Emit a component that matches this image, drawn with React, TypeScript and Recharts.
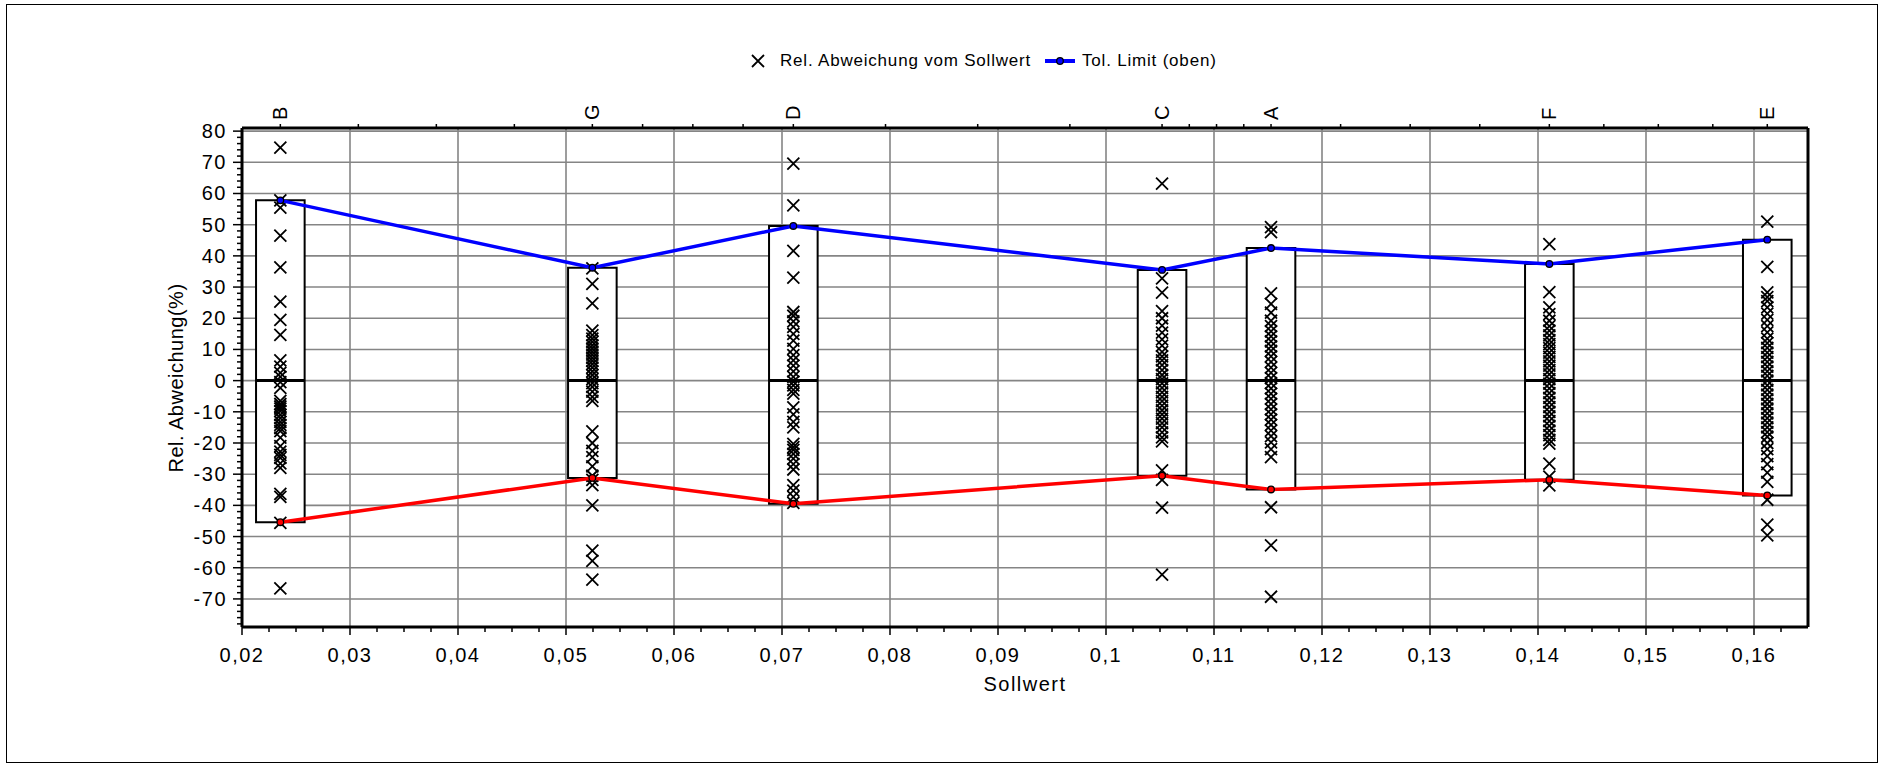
import {
  CartesianGrid,
  ComposedChart,
  Legend,
  ReferenceArea,
  ReferenceLine,
  Scatter,
  XAxis,
  YAxis,
} from "recharts";

// Sollwert per sample (top axis labels)
const groupNames = ["B", "G", "D", "C", "A", "F", "E"];
const groupX = [0.02355, 0.05244, 0.07105, 0.10519, 0.11528, 0.14105, 0.16123];
const upperLimit = [57.8, 36.2, 49.6, 35.5, 42.5, 37.4, 45.2];
const lowerLimit = [-45.4, -31.2, -39.5, -30.5, -34.9, -31.8, -36.8];
const medianLine = [0, 0, 0, 0, 0, 0, 0];

const devB = [74.7, 57.8, 55.5, 46.5, 36.3, 25.3, 19.5, 14.7, 6.5, 4.5, 2.5, 1.2, -0.5, -2.3, -6.5, -7.5, -8.3, -9.0, -9.8, -11.0, -12.0, -13.2, -14.2, -15.2, -16.2, -18.3, -21.0, -22.8, -23.8, -24.8, -26.5, -28.0, -36.3, -37.3, -45.6, -66.6];
const devG = [36.0, 31.0, 24.8, 16.0, 14.6, 13.5, 12.4, 11.3, 10.3, 9.3, 8.3, 7.3, 6.3, 5.3, 4.2, 3.0, 1.8, 0.5, -0.8, -2.0, -3.5, -5.2, -6.5, -16.3, -20.0, -22.5, -24.5, -27.5, -30.5, -31.8, -33.5, -40.0, -54.5, -57.8, -63.8];
const devD = [69.6, 56.2, 41.6, 33.0, 22.0, 20.8, 19.0, 17.2, 15.0, 12.8, 10.2, 8.2, 6.5, 4.8, 3.0, 1.2, -0.3, -1.5, -3.0, -4.2, -8.6, -10.8, -13.2, -15.0, -20.3, -21.3, -22.2, -23.5, -25.0, -26.8, -28.5, -33.5, -35.3, -37.3, -39.2];
const devC = [63.2, 32.8, 28.2, 22.3, 20.0, 17.6, 15.4, 13.2, 11.2, 9.2, 7.8, 6.5, 5.0, 3.4, 1.8, 0.5, -0.9, -2.3, -3.8, -5.2, -6.6, -8.0, -9.5, -10.8, -12.2, -13.6, -15.0, -16.6, -18.2, -19.5, -28.8, -31.8, -40.7, -62.2];
const devA = [49.2, 47.6, 28.0, 24.6, 21.8, 19.2, 17.5, 15.8, 14.2, 12.6, 11.0, 9.5, 7.8, 6.0, 4.2, 2.5, 0.8, -0.8, -2.5, -4.2, -5.8, -7.5, -9.2, -10.8, -12.5, -14.2, -16.0, -17.8, -19.8, -22.0, -24.5, -40.6, -52.8, -69.3];
const devF = [43.8, 28.4, 23.5, 21.3, 19.2, 17.5, 16.0, 14.5, 13.0, 11.7, 10.4, 9.0, 7.6, 6.2, 4.8, 3.4, 2.0, 0.5, -1.0, -2.5, -4.0, -5.5, -7.0, -8.5, -10.0, -11.5, -13.0, -14.5, -16.0, -17.5, -19.0, -20.2, -26.6, -30.8, -33.6];
const devE = [51.0, 36.5, 28.3, 26.8, 25.5, 23.5, 21.5, 19.5, 17.5, 15.5, 13.5, 12.0, 10.5, 9.0, 7.5, 6.0, 4.5, 3.0, 1.5, 0.0, -1.5, -3.0, -4.5, -6.0, -7.5, -9.0, -10.5, -12.0, -13.5, -15.0, -16.5, -18.0, -20.0, -22.0, -24.2, -26.8, -29.5, -32.5, -38.2, -46.2, -49.6];
const deviations = [devB, devG, devD, devC, devA, devF, devE];

const xTickLabels = [0.02, 0.03, 0.04, 0.05, 0.06, 0.07, 0.08, 0.09, 0.1, 0.11, 0.12, 0.13, 0.14, 0.15, 0.16];
const yTickLabels = [-70, -60, -50, -40, -30, -20, -10, 0, 10, 20, 30, 40, 50, 60, 70, 80];

const X_DOMAIN = [0.02, 0.165];
const Y_DOMAIN = [-79, 81];
const BOX_HALF = 0.00225;
const FONT = '"Liberation Sans", Arial, sans-serif';

const points = deviations.flatMap((vals, i) => vals.map((y) => ({ x: groupX[i], y })));
const upperPoints = groupX.map((x, i) => ({ x, y: upperLimit[i] }));
const lowerPoints = groupX.map((x, i) => ({ x, y: lowerLimit[i] }));

// minor ticks: bottom every 0.0025, left every 2 units
const bottomTicks: number[] = [];
for (let i = 0; i <= 57; i++) bottomTicks.push(Math.round((0.02 + i * 0.0025) * 100000) / 100000);
const leftTicks: number[] = [];
for (let v = -78; v <= 80; v += 2) leftTicks.push(v);
// top axis: group positions plus three ticks between neighbours
const topTicks: number[] = [...groupX];
for (let i = 0; i < groupX.length - 1; i++) {
  for (let k = 1; k < 4; k++) topTicks.push(groupX[i] + ((groupX[i + 1] - groupX[i]) * k) / 4);
}
topTicks.sort((a, b) => a - b);

function fmtX(v: number) {
  return String(Number(v.toFixed(4))).replace(".", ",");
}

function LeftTick({ x, y, payload }: any) {
  const v = payload.value;
  const major = v % 10 === 0;
  return (
    <g>
      <line x1={x} x2={x - (major ? 9 : 5)} y1={y} y2={y} stroke="#000" strokeWidth={1.5} />
      {major && v >= -70 && (
        <text x={x - 15} y={y} textAnchor="end" dominantBaseline="central" fontFamily={FONT} fontSize={20} letterSpacing={1.5} fill="#000">
          {v}
        </text>
      )}
    </g>
  );
}

function BottomTick({ x, y, payload }: any) {
  const v = payload.value;
  const major = Math.abs(v * 100 - Math.round(v * 100)) < 1e-6;
  return (
    <g>
      <line x1={x} x2={x} y1={y} y2={y + (major ? 8 : 5)} stroke="#000" strokeWidth={1.5} />
      {major && (
        <text x={x} y={y + 28} textAnchor="middle" dominantBaseline="central" fontFamily={FONT} fontSize={20} letterSpacing={1.5} fill="#000">
          {fmtX(v)}
        </text>
      )}
    </g>
  );
}

function TopTick({ x, y, payload }: any) {
  const idx = groupX.findIndex((g) => Math.abs(g - payload.value) < 1e-7);
  return (
    <g>
      <line x1={x} x2={x} y1={y} y2={y - 4} stroke="#000" strokeWidth={1.5} />
      {idx >= 0 && (
        <text
          x={x}
          y={y - 8}
          transform={`rotate(-90 ${x} ${y - 8})`}
          textAnchor="start"
          dominantBaseline="central"
          fontFamily={FONT}
          fontSize={20}
          fill="#000"
        >
          {groupNames[idx]}
        </text>
      )}
    </g>
  );
}

function Cross(props: any) {
  const { cx, cy } = props;
  const s = 6;
  return <path d={`M${cx - s},${cy - s}L${cx + s},${cy + s}M${cx + s},${cy - s}L${cx - s},${cy + s}`} stroke="#000" strokeWidth={1.8} fill="none" />;
}

function Dot(color: string) {
  return (props: any) => <circle cx={props.cx} cy={props.cy} r={3.3} fill={color} stroke="#000" strokeWidth={1.3} />;
}

function LegendContent() {
  return (
    <div style={{ display: "flex", alignItems: "center", fontFamily: FONT, fontSize: 17, letterSpacing: 0.8, color: "#000", whiteSpace: "nowrap" }}>
      <svg width={16} height={16}>
        <path d="M2,2L14,14M14,2L2,14" stroke="#000" strokeWidth={1.8} />
      </svg>
      <span style={{ marginLeft: 14 }}>Rel. Abweichung vom Sollwert</span>
      <svg width={30} height={16} style={{ marginLeft: 14 }}>
        <line x1={0} y1={8} x2={30} y2={8} stroke="#0000ff" strokeWidth={4} />
        <circle cx={15} cy={8} r={3.3} fill="#0000ff" stroke="#000" strokeWidth={1.3} />
      </svg>
      <span style={{ marginLeft: 7 }}>Tol. Limit (oben)</span>
    </div>
  );
}

export default function App() {
  return (
    <div style={{ position: "absolute", left: 0, top: 0, width: 1881, height: 765, background: "#fff" }}>
      <div style={{ position: "absolute", left: 6, top: 4, width: 1872, height: 759, border: "1.5px solid #000", boxSizing: "border-box" }} />
      <ComposedChart width={1881} height={765} margin={{ top: 88, right: 72, bottom: 68, left: 142 }}>
        <CartesianGrid
          stroke="#858585"
          strokeWidth={1.6}
          horizontalValues={yTickLabels}
          verticalValues={xTickLabels.slice(1)}
        />
        <XAxis
          dataKey="x"
          type="number"
          domain={X_DOMAIN}
          allowDataOverflow
          ticks={bottomTicks}
          interval={0}
          tickSize={0}
          tickMargin={0}
          tickLine={false}
          tick={(p: any) => <BottomTick {...p} />}
          height={70}
          axisLine={{ stroke: "#000", strokeWidth: 3 }}
          label={() => (
            <text x={1025} y={684} textAnchor="middle" dominantBaseline="central" fontFamily={FONT} fontSize={20} letterSpacing={1.5} fill="#000">
              Sollwert
            </text>
          )}
        />
        <XAxis
          xAxisId="top"
          orientation="top"
          dataKey="x"
          type="number"
          domain={X_DOMAIN}
          allowDataOverflow
          ticks={topTicks}
          interval={0}
          tickSize={0}
          tickMargin={0}
          tickLine={false}
          tick={(p: any) => <TopTick {...p} />}
          height={40}
          axisLine={{ stroke: "#000", strokeWidth: 3 }}
        />
        <YAxis
          dataKey="y"
          type="number"
          domain={Y_DOMAIN}
          allowDataOverflow
          ticks={leftTicks}
          interval={0}
          tickSize={0}
          tickMargin={0}
          tickLine={false}
          tick={(p: any) => <LeftTick {...p} />}
          width={100}
          axisLine={{ stroke: "#000", strokeWidth: 3 }}
          label={() => (
            <text x={176} y={378} transform="rotate(-90 176 378)" textAnchor="middle" dominantBaseline="central" fontFamily={FONT} fontSize={20} letterSpacing={0.5} fill="#000">
              Rel. Abweichung(%)
            </text>
          )}
        />
        <YAxis
          yAxisId="right"
          orientation="right"
          type="number"
          domain={Y_DOMAIN}
          tick={false}
          tickLine={false}
          width={1}
          axisLine={{ stroke: "#000", strokeWidth: 3 }}
        />
        {groupX.map((x, i) => (
          <ReferenceArea
            key={`box-${groupNames[i]}`}
            x1={x - BOX_HALF}
            x2={x + BOX_HALF}
            y1={lowerLimit[i]}
            y2={upperLimit[i]}
            fill="#fff"
            fillOpacity={1}
            stroke="#000"
            strokeWidth={2}
            ifOverflow="visible"
          />
        ))}
        {groupX.map((x, i) => (
          <ReferenceLine
            key={`med-${groupNames[i]}`}
            segment={[
              { x: x - BOX_HALF, y: medianLine[i] },
              { x: x + BOX_HALF, y: medianLine[i] },
            ]}
            stroke="#000"
            strokeWidth={3}
          />
        ))}
        <Scatter name="Rel. Abweichung vom Sollwert" data={points} dataKey="y" shape={Cross} isAnimationActive={false} />
        <Scatter
          name="Tol. Limit (unten)"
          data={lowerPoints}
          dataKey="y"
          line={{ stroke: "#ff0000", strokeWidth: 3.5 }}
          lineType="joint"
          shape={Dot("#ff0000")}
          isAnimationActive={false}
        />
        <Scatter
          name="Tol. Limit (oben)"
          data={upperPoints}
          dataKey="y"
          line={{ stroke: "#0000ff", strokeWidth: 3.5 }}
          lineType="joint"
          shape={Dot("#0000ff")}
          isAnimationActive={false}
        />
        <Legend verticalAlign="middle" content={() => <LegendContent />} wrapperStyle={{ top: 51, left: 750, width: "auto" }} />
      </ComposedChart>
    </div>
  );
}
